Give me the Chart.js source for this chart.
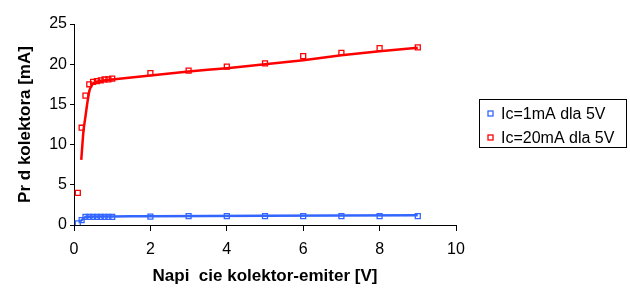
<!DOCTYPE html>
<html>
<head>
<meta charset="utf-8">
<script src="https://cdn.jsdelivr.net/npm/chart.js@4"></script>
<style>
  html, body { margin: 0; padding: 0; background: #fff; }
  #wrap { width: 630px; height: 307px; }
</style>
</head>
<body>
<div id="wrap"><canvas id="chart" width="630" height="307"></canvas></div>
<script>
// Measured points (markers)
const redX = [0.1, 0.2, 0.3, 0.4, 0.5, 0.6, 0.7, 0.8, 0.9, 1, 2, 3, 4, 5, 6, 7, 8, 9];
const redY = [4.0, 12.1, 16.1, 17.5, 17.8, 17.9, 18.0, 18.1, 18.1, 18.2, 18.9, 19.2, 19.7, 20.1, 21.0, 21.4, 22.0, 22.1];
const blueX = [0.1, 0.2, 0.3, 0.4, 0.5, 0.6, 0.7, 0.8, 0.9, 1, 2, 3, 4, 5, 6, 7, 8, 9];
const blueY = [0.2, 0.6, 1.0, 1.0, 1.0, 1.0, 1.0, 1.0, 1.0, 1.0, 1.05, 1.1, 1.1, 1.1, 1.1, 1.1, 1.1, 1.1];

// Fitted curves (lines, no markers)
const redFitX = [0.19, 0.25, 0.3, 0.35, 0.41, 0.5, 0.67, 1, 2, 3, 4, 5, 6, 7, 8, 9];
const redFitY = [8.1, 11.8, 13.5, 15.2, 16.8, 17.6, 17.9, 18.1, 18.6, 19.1, 19.5, 20.0, 20.5, 21.1, 21.6, 22.05];
const blueFitX = [0.13, 0.2, 0.3, 1, 2, 5, 9];
const blueFitY = [0.4, 0.6, 1.0, 1.05, 1.1, 1.15, 1.2];

const seriesLabels = ['Ic=1mA dla 5V', 'Ic=20mA dla 5V'];
const xTicks = [0, 2, 4, 6, 8, 10];
const yTicks = [0, 5, 10, 15, 20, 25];

const RED = '#ff0000';
const BLUE = '#3366ff';
const FONT = '"Liberation Sans", Arial, sans-serif';

function pts(xs, ys) {
    return xs.map((x, i) => ({ x: x, y: ys[i] }));
}

// Legend with a frame, drawn on the right side
const boxLegend = {
    id: 'boxLegend',
    afterDraw(chart) {
        const ctx = chart.ctx;
        const bx = 479.5, by = 99.5, bw = 147, bh = 48;
        ctx.save();
        ctx.strokeStyle = '#000';
        ctx.lineWidth = 1;
        ctx.strokeRect(bx, by, bw, bh);
        ctx.font = '16px ' + FONT;
        ctx.textBaseline = 'middle';
        const colors = [BLUE, RED];
        seriesLabels.forEach((label, i) => {
            const cy = 113.5 + i * 24;
            ctx.strokeStyle = colors[i];
            ctx.lineWidth = 1.3;
            ctx.strokeRect(488, cy - 2.5, 5, 5);
            ctx.fillStyle = '#000';
            ctx.fillText(label, 501, cy + 1);
        });
        ctx.restore();
    }
};

new Chart(document.getElementById('chart'), {
    type: 'scatter',
    data: {
        datasets: [
            {
                label: seriesLabels[0],
                data: pts(blueX, blueY),
                borderColor: BLUE,
                backgroundColor: 'rgba(0,0,0,0)',
                pointStyle: 'rect',
                pointRadius: 3.5,
                borderWidth: 1.3,
                showLine: false,
                order: 1
            },
            {
                label: seriesLabels[1],
                data: pts(redX, redY),
                borderColor: RED,
                backgroundColor: 'rgba(0,0,0,0)',
                pointStyle: 'rect',
                pointRadius: 3.5,
                borderWidth: 1.3,
                showLine: false,
                order: 1
            },
            {
                label: 'fit1',
                data: pts(blueFitX, blueFitY),
                borderColor: BLUE,
                borderWidth: 2.5,
                pointRadius: 0,
                showLine: true,
                tension: 0.2,
                order: 2
            },
            {
                label: 'fit2',
                data: pts(redFitX, redFitY),
                borderColor: RED,
                borderWidth: 2.5,
                pointRadius: 0,
                showLine: true,
                tension: 0.2,
                order: 2
            }
        ]
    },
    options: {
        responsive: false,
        animation: false,
        layout: { padding: { top: 24, right: 174, bottom: 0, left: 0 } },
        plugins: {
            legend: { display: false },
            tooltip: { enabled: false }
        },
        scales: {
            x: {
                type: 'linear',
                min: 0,
                max: 10,
                afterFit: (scale) => { scale.height = 82; },
                afterBuildTicks: (scale) => { scale.ticks = xTicks.map(v => ({ value: v })); },
                border: { color: '#000', width: 1 },
                grid: { drawOnChartArea: false, color: '#000', tickLength: 6 },
                ticks: {
                    color: '#000',
                    padding: 9,
                    maxRotation: 0,
                    font: { family: FONT, size: 16 }
                },
                title: {
                    display: true,
                    text: 'Napi  cie kolektor-emiter [V]',
                    color: '#000',
                    padding: { top: 0, bottom: 20 },
                    font: { family: FONT, size: 17, weight: 'bold' }
                }
            },
            y: {
                type: 'linear',
                min: 0,
                max: 25,
                afterFit: (scale) => { scale.width = 74; },
                afterBuildTicks: (scale) => { scale.ticks = yTicks.map(v => ({ value: v })); },
                border: { color: '#000', width: 1 },
                grid: { drawOnChartArea: false, color: '#000', tickLength: 4 },
                ticks: {
                    color: '#000',
                    padding: 3,
                    font: { family: FONT, size: 16 }
                },
                title: {
                    display: true,
                    text: 'Pr d kolektora [mA]',
                    color: '#000',
                    padding: { top: 15, bottom: 0 },
                    font: { family: FONT, size: 17, weight: 'bold' }
                }
            }
        }
    },
    plugins: [boxLegend]
});
</script>
</body>
</html>
